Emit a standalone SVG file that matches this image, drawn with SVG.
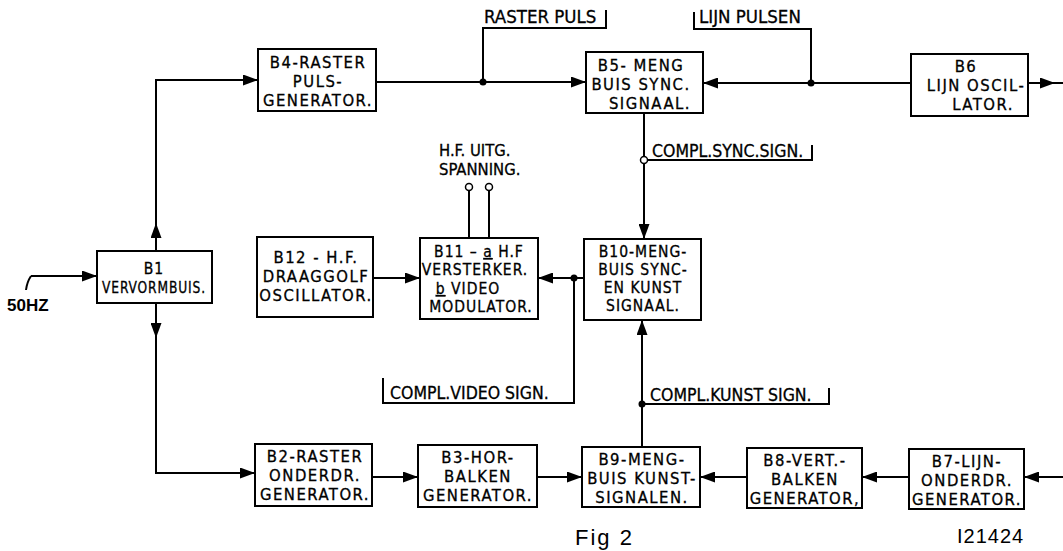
<svg xmlns="http://www.w3.org/2000/svg" width="1063" height="551" viewBox="0 0 1063 551">
<style>
.box{fill:#fff;stroke:#000;stroke-width:2}
.t{font-family:"DejaVu Sans Condensed","Liberation Sans",Arial,sans-serif;font-size:16.5px;fill:#000;stroke:#000;stroke-width:0.3;text-anchor:middle;letter-spacing:1.5px}
.s{font-size:15.5px;letter-spacing:1px}
.l{font-family:"DejaVu Sans Condensed","Liberation Sans",Arial,sans-serif;font-size:17.5px;fill:#000;stroke:#000;stroke-width:0.3}
.w{fill:none;stroke:#000;stroke-width:2}
.a{fill:none;stroke:#000;stroke-width:2;marker-end:url(#ah)}
.u{text-decoration:underline}
</style>
<defs>
<marker id="ah" markerUnits="userSpaceOnUse" markerWidth="16" markerHeight="11" refX="15" refY="5.5" orient="auto">
<path d="M0,0 L15,5.5 L0,11 z" fill="#000"/>
</marker>
</defs>
<rect width="1063" height="551" fill="#fff"/>

<g id="connectors">
<path class="w" d="M31,276 Q27,282 26,290"/>
<path class="a" d="M31,276 H97"/>
<path class="a" d="M156,251 V223"/>
<path class="a" d="M156,224 V80 H258"/>
<path class="a" d="M156,303 V338"/>
<path class="a" d="M156,337 V473 H255"/>
<path class="a" d="M376,82 H586"/>
<path class="a" d="M911,83 H703"/>
<path class="a" d="M1028,83 H1055"/>
<path class="w" d="M1054,83 H1063"/>
<path class="a" d="M644,113 V239"/>
<path class="a" d="M642,447 V320"/>
<path class="a" d="M373,278 H420"/>
<path class="a" d="M584,278 H538"/>
<path class="a" d="M372,477 H418"/>
<path class="a" d="M537,477 H582"/>
<path class="a" d="M747,477 H700"/>
<path class="a" d="M909,477 H862"/>
<path class="a" d="M1063,477 H1024"/>
<path class="w" d="M483,82 V28 H606 V10"/>
<path class="w" d="M811,83 V29 H694 V12"/>
<path class="w" d="M644,160 H812 V145"/>
<path class="w" d="M574,278 V403 H383 V378"/>
<path class="w" d="M642,404 H829 V388"/>
<path class="w" d="M469,238 V190 M489,238 V190"/>
<circle cx="483" cy="82" r="3.5" fill="#000"/>
<circle cx="811" cy="83" r="3.5" fill="#000"/>
<circle cx="574" cy="278" r="3.5" fill="#000"/>
<circle cx="642" cy="404" r="3.5" fill="#000"/>
<circle cx="644" cy="160" r="3.5" fill="#fff" stroke="#000" stroke-width="1.5"/>
<circle cx="469" cy="187" r="3.5" fill="#fff" stroke="#000" stroke-width="1.5"/>
<circle cx="489" cy="187" r="3.5" fill="#fff" stroke="#000" stroke-width="1.5"/>
</g>

<g id="labels">
<text class="l" x="484" y="23" style="font-size:18.5px">RASTER PULS</text>
<text class="l" x="699" y="23" style="font-size:18.5px">LIJN PULSEN</text>
<text class="l" x="652" y="157">COMPL.SYNC.SIGN.</text>
<text class="l" x="439" y="156" style="font-size:16.5px">H.F. UITG.</text>
<text class="l" x="439" y="175" style="font-size:16.5px">SPANNING.</text>
<text class="l" x="390" y="399">COMPL.VIDEO SIGN.</text>
<text class="l" x="650" y="401">COMPL.KUNST SIGN.</text>
<text class="l" x="7" y="311" style="font-family:'Liberation Sans',Arial,sans-serif;font-size:17px;font-weight:bold;stroke-width:0">50HZ</text>
<text class="l" x="575" y="545" style="font-family:'Liberation Sans',Arial,sans-serif;font-size:22px;letter-spacing:2px;stroke-width:0">Fig 2</text>
<text class="l" x="957" y="543" style="font-family:'Liberation Sans',Arial,sans-serif;font-size:20px;letter-spacing:1px;stroke-width:0">I21424</text>
</g>

<g id="B1">
<rect class="box" x="97" y="251" width="115" height="52"/>
<text class="t s" x="154" y="274">B1</text>
<text class="t s" x="154" y="293" textLength="104" lengthAdjust="spacingAndGlyphs">VERVORMBUIS.</text>
</g>
<g id="B4">
<rect class="box" x="258" y="49" width="118" height="62"/>
<text class="t" x="318" y="68">B4-RASTER</text>
<text class="t" x="318" y="87">PULS-</text>
<text class="t" x="318" y="106">GENERATOR.</text>
</g>
<g id="B5">
<rect class="box" x="586" y="52" width="117" height="61"/>
<text class="t" x="641" y="71">B5- MENG</text>
<text class="t" x="641" y="90">BUIS SYNC.</text>
<text class="t" x="650" y="109">SIGNAAL.</text>
</g>
<g id="B6">
<rect class="box" x="911" y="54" width="117" height="62"/>
<text class="t" x="966" y="72">B6</text>
<text class="t" x="976" y="91">LIJN OSCIL-</text>
<text class="t" x="983" y="110">LATOR.</text>
</g>
<g id="B12">
<rect class="box" x="257" y="237" width="116" height="80"/>
<text class="t" x="316" y="263">B12 - H.F.</text>
<text class="t" x="316" y="282">DRAAGGOLF</text>
<text class="t" x="316" y="301">OSCILLATOR.</text>
</g>
<g id="B11">
<rect class="box" x="420" y="238" width="118" height="81"/>
<text class="t s" x="479" y="257">B11 – <tspan class="u">a</tspan> H.F</text>
<text class="t s" x="475" y="275">VERSTERKER.</text>
<text class="t s" x="468" y="294"><tspan class="u">b</tspan> VIDEO</text>
<text class="t s" x="481" y="312">MODULATOR.</text>
</g>
<g id="B10">
<rect class="box" x="584" y="239" width="117" height="81"/>
<text class="t s" x="643" y="257">B10-MENG-</text>
<text class="t s" x="643" y="275">BUIS SYNC-</text>
<text class="t s" x="643" y="293">EN KUNST</text>
<text class="t s" x="643" y="311">SIGNAAL.</text>
</g>
<g id="B2">
<rect class="box" x="255" y="444" width="117" height="62"/>
<text class="t" x="315" y="462">B2-RASTER</text>
<text class="t" x="315" y="481">ONDERDR.</text>
<text class="t" x="315" y="500">GENERATOR.</text>
</g>
<g id="B3">
<rect class="box" x="418" y="445" width="119" height="62"/>
<text class="t" x="478" y="463">B3-HOR-</text>
<text class="t" x="478" y="482">BALKEN</text>
<text class="t" x="478" y="501">GENERATOR.</text>
</g>
<g id="B9">
<rect class="box" x="582" y="447" width="118" height="60"/>
<text class="t" x="642" y="465">B9-MENG-</text>
<text class="t" x="642" y="484">BUIS KUNST-</text>
<text class="t" x="642" y="503">SIGNALEN.</text>
</g>
<g id="B8">
<rect class="box" x="747" y="448" width="115" height="60"/>
<text class="t" x="805" y="466">B8-VERT.-</text>
<text class="t" x="805" y="485">BALKEN</text>
<text class="t" x="805" y="504">GENERATOR,</text>
</g>
<g id="B7">
<rect class="box" x="909" y="449" width="115" height="60"/>
<text class="t" x="967" y="467">B7-LIJN-</text>
<text class="t" x="967" y="486">ONDERDR.</text>
<text class="t" x="967" y="505">GENERATOR.</text>
</g>
</svg>
